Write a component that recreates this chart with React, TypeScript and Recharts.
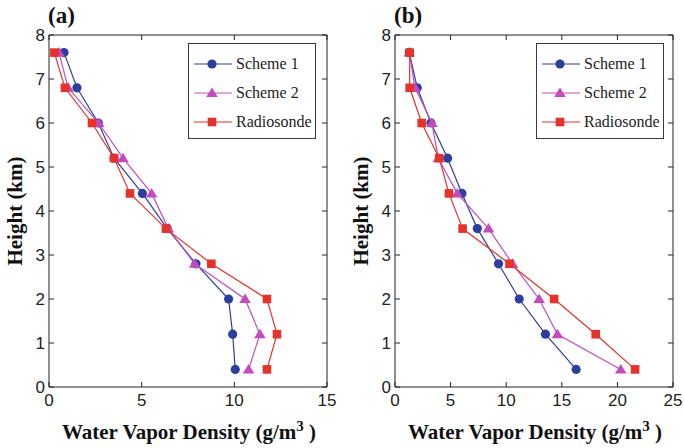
import { ScatterChart, Scatter, XAxis, YAxis } from "recharts";

// heights (km) where the profiles are sampled
const heights = [0.4, 1.2, 2.0, 2.8, 3.6, 4.4, 5.2, 6.0, 6.8, 7.6];

// panel (a)
const aScheme1 = [10.05, 9.91, 9.69, 7.93, 6.38, 5.04, 3.51, 2.66, 1.51, 0.81];
const aScheme2 = [10.77, 11.38, 10.58, 7.86, 6.44, 5.54, 3.99, 2.68, 1.03, 0.54];
const aRadio = [11.76, 12.3, 11.76, 8.76, 6.31, 4.37, 3.51, 2.32, 0.86, 0.29];

// panel (b)
const bScheme1 = [16.29, 13.53, 11.17, 9.31, 7.4, 6.02, 4.73, 3.23, 2.0, 1.29];
const bScheme2 = [20.3, 14.61, 12.96, 10.57, 8.41, 5.6, 3.89, 3.32, 1.8, 1.29];
const bRadio = [21.59, 18.05, 14.31, 10.3, 6.08, 4.85, 3.98, 2.4, 1.32, 1.32];

const yTicks = [0, 1, 2, 3, 4, 5, 6, 7, 8];
const aXTicks = [0, 5, 10, 15];
const bXTicks = [0, 5, 10, 15, 20, 25];

const BLUE = "#2c3f9e";
const MAGENTA = "#c24cbf";
const RED = "#e5322b";
const AXIS = "#222";

const toPoints = (vals: number[]) => vals.map((v, i) => ({ x: v, y: heights[i] }));

const Dot = (props: any) => {
  const { cx, cy } = props;
  return <circle cx={cx} cy={cy} r={4.6} fill={BLUE} />;
};
const Tri = (props: any) => {
  const { cx, cy } = props;
  return <polygon points={`${cx},${cy - 5.5} ${cx + 5.8},${cy + 4} ${cx - 5.8},${cy + 4}`} fill={MAGENTA} />;
};
const Sq = (props: any) => {
  const { cx, cy } = props;
  return <rect x={cx - 4.3} y={cy - 4.3} width={8.6} height={8.6} fill={RED} />;
};
const Nothing = () => <g />;

const legendItems = [
  { name: "Scheme 1", color: BLUE, Shape: Dot },
  { name: "Scheme 2", color: MAGENTA, Shape: Tri },
  { name: "Radiosonde", color: RED, Shape: Sq },
];

const serif = "'Liberation Serif', 'Times New Roman', serif";
const tickStyle = { fontFamily: "'Liberation Sans', Arial, sans-serif", fontSize: 17, fill: "#222" };

const LegendBox = ({ left }: { left: number }) => (
  <div
    style={{
      position: "absolute",
      left,
      top: 43,
      width: 128,
      height: 96,
      border: "1.5px solid #3a3a3a",
      background: "#fff",
      boxSizing: "border-box",
      paddingTop: 5,
      fontFamily: serif,
      fontSize: 16,
      color: "#222",
    }}
  >
    {legendItems.map((it) => (
      <div key={it.name} style={{ display: "flex", alignItems: "center", height: 29 }}>
        <svg width={44} height={14} style={{ marginLeft: 4 }}>
          <line x1={1} y1={7} x2={39} y2={7} stroke={it.color} strokeWidth={1.2} />
          <it.Shape cx={19} cy={7} />
        </svg>
        <span style={{ marginLeft: -1 }}>{it.name}</span>
      </div>
    ))}
  </div>
);

function Panel({
  tag,
  s1,
  s2,
  r,
  xMax,
  xTicks,
  yWidth,
  right,
  legendLeft,
}: {
  tag: string;
  s1: number[];
  s2: number[];
  r: number[];
  xMax: number;
  xTicks: number[];
  yWidth: number;
  right: number;
  legendLeft: number;
}) {
  return (
    <div style={{ position: "relative", width: 342, height: 448 }}>
      <div
        style={{
          position: "absolute",
          left: yWidth - 1,
          top: 3,
          fontFamily: serif,
          fontWeight: "bold",
          fontSize: 23,
          color: "#111",
        }}
      >
        {tag}
      </div>
      <ScatterChart width={342} height={448} margin={{ top: 34, right: right - 1, bottom: 0, left: 0 }}>
        <XAxis
          type="number"
          dataKey="x"
          domain={[0, xMax]}
          ticks={xTicks}
          allowDataOverflow
          height={61}
          tickSize={-5}
          tickMargin={12}
          stroke={AXIS}
          tickLine={{ stroke: AXIS }}
          tick={tickStyle}
          label={{
            content: (p: any) => {
              const vb = p.viewBox;
              return (
                <text
                  x={vb.x + vb.width / 2 + 1}
                  y={vb.y + 52}
                  textAnchor="middle"
                  fontFamily={serif}
                  fontWeight="bold"
                  fontSize={21}
                  fill="#111"
                >
                  Water Vapor Density (g/m<tspan dy={-8} fontSize={15}>3</tspan>
                  <tspan dy={8}> )</tspan>
                </text>
              );
            },
          }}
        />
        <XAxis
          xAxisId="top"
          orientation="top"
          type="number"
          dataKey="x"
          domain={[0, xMax]}
          ticks={xTicks}
          allowDataOverflow
          height={1}
          tickSize={-5}
          stroke={AXIS}
          tickLine={{ stroke: AXIS }}
          tickFormatter={() => ""}
        />
        <YAxis
          type="number"
          dataKey="y"
          domain={[0, 8]}
          ticks={yTicks}
          allowDataOverflow
          width={yWidth}
          tickSize={-5}
          tickMargin={9}
          stroke={AXIS}
          tickLine={{ stroke: AXIS }}
          tick={tickStyle}
          label={{
            content: (p: any) => {
              const vb = p.viewBox;
              const cx = vb.x + yWidth - 34;
              const cy = vb.y + vb.height / 2;
              return (
                <text
                  x={cx}
                  y={cy}
                  transform={`rotate(-90, ${cx}, ${cy})`}
                  textAnchor="middle"
                  dominantBaseline="central"
                  fontFamily={serif}
                  fontWeight="bold"
                  fontSize={21}
                  fill="#111"
                >
                  Height (km)
                </text>
              );
            },
          }}
        />
        <YAxis
          yAxisId="right"
          orientation="right"
          type="number"
          dataKey="y"
          domain={[0, 8]}
          ticks={yTicks}
          allowDataOverflow
          width={1}
          tickSize={-5}
          stroke={AXIS}
          tickLine={{ stroke: AXIS }}
          tickFormatter={() => ""}
        />
        {/* invisible series so the mirrored frame axes get a scale */}
        <Scatter
          xAxisId="top"
          yAxisId="right"
          data={toPoints(s1)}
          shape={Nothing}
          isAnimationActive={false}
        />
        <Scatter
          name="Scheme 1"
          data={toPoints(s1)}
          line={{ stroke: BLUE, strokeWidth: 1.2 }}
          shape={Dot}
          isAnimationActive={false}
        />
        <Scatter
          name="Scheme 2"
          data={toPoints(s2)}
          line={{ stroke: MAGENTA, strokeWidth: 1.2 }}
          shape={Tri}
          isAnimationActive={false}
        />
        <Scatter
          name="Radiosonde"
          data={toPoints(r)}
          line={{ stroke: RED, strokeWidth: 1.2 }}
          shape={Sq}
          isAnimationActive={false}
        />
      </ScatterChart>
      <LegendBox left={legendLeft} />
    </div>
  );
}

export default function App() {
  return (
    <div style={{ position: "absolute", left: 0, top: 0, width: 684, height: 448, display: "flex", background: "#fff" }}>
      <Panel tag="(a)" s1={aScheme1} s2={aScheme2} r={aRadio} xMax={15} xTicks={aXTicks} yWidth={49} right={15} legendLeft={188} />
      <Panel tag="(b)" s1={bScheme1} s2={bScheme2} r={bRadio} xMax={25} xTicks={bXTicks} yWidth={53} right={11} legendLeft={194} />
    </div>
  );
}
